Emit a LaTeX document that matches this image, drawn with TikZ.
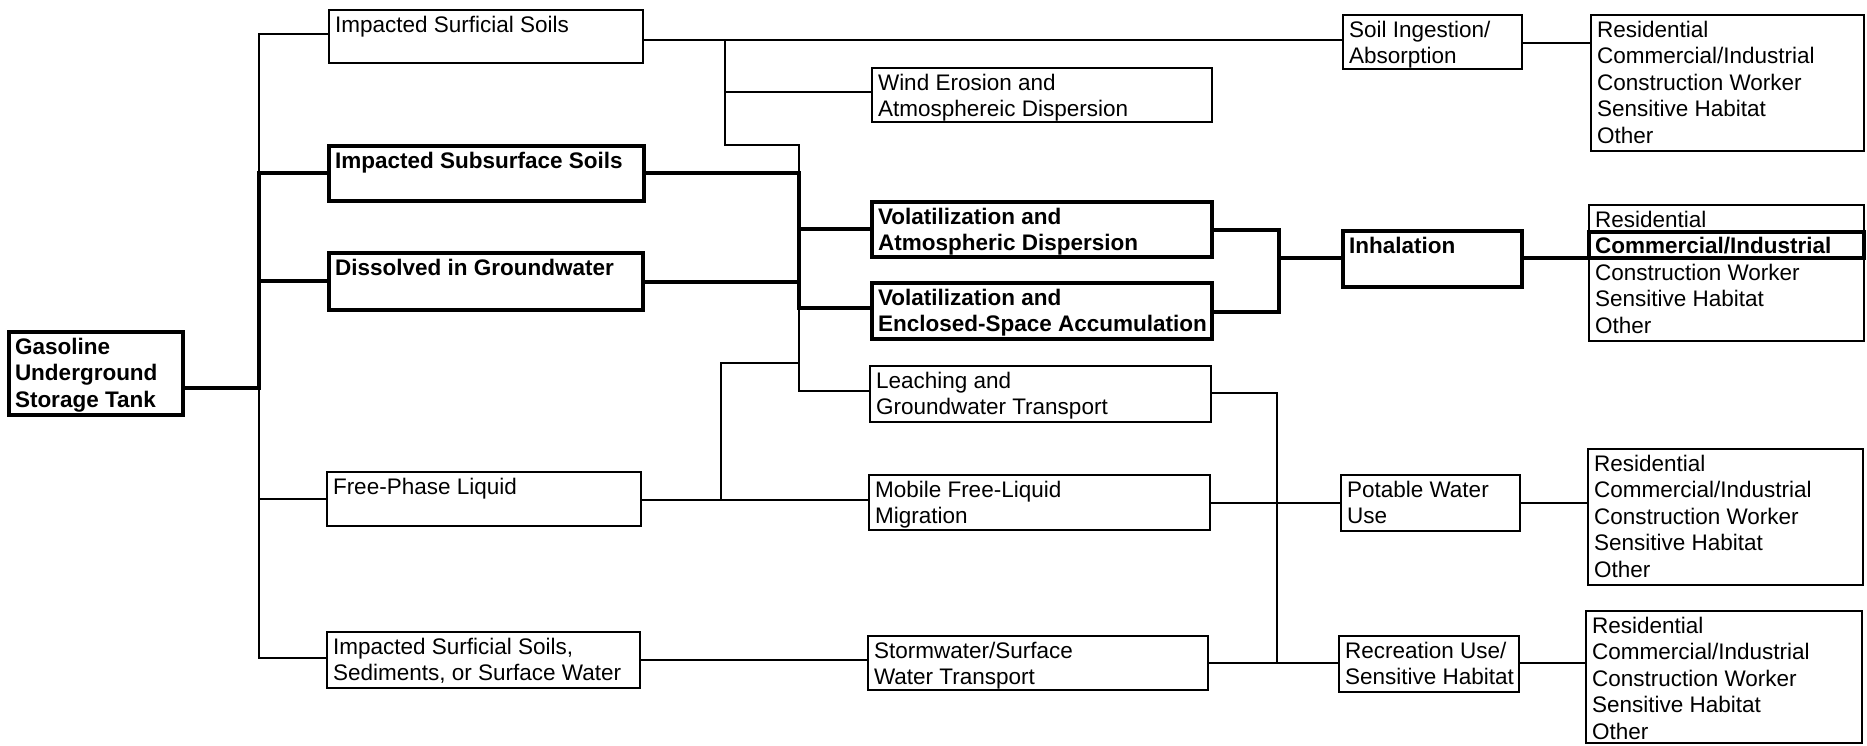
\documentclass[tikz,border=0pt]{standalone}
\usepackage{fontspec}
\setmainfont{Liberation Sans}
\tikzset{
  thinln/.style={line width=2pt, line cap=rect},
  boldln/.style={line width=4pt, line cap=rect},
  boxthin/.style={draw, line width=2pt, font=\fontsize{22.5}{26.6}\selectfont},
  boxbold/.style={draw, line width=4pt, font=\bfseries\fontsize{22.5}{26.6}\selectfont},
}
\newcommand\myboxnode[7]{%
  \pgfmathsetmacro\bw{#5-#3}%
  \pgfmathsetmacro\bh{#6-#4}%
  \node[#2, anchor=north west, inner sep=0pt, outer sep=0pt] (#1) at (#3,#4)
   {\parbox[c][\bh pt][t]{\bw pt}{\raggedright\leftskip=6pt\relax\rule{0pt}{22pt}#7}};%
}
\begin{document}
\begin{tikzpicture}[x=1pt, y=-1pt]
\useasboundingbox (0,0) rectangle (1867,745);

% column 1
\myboxnode{tank}{boxbold}{9}{332}{183}{415}{Gasoline\\Underground\\Storage Tank}
% column 2
\myboxnode{surf}{boxthin}{329}{10}{643}{63}{Impacted Surficial Soils}
\myboxnode{subs}{boxbold}{329}{146}{644}{201}{Impacted Subsurface Soils}
\myboxnode{diss}{boxbold}{329}{253}{643}{310}{Dissolved in Groundwater}
\myboxnode{free}{boxthin}{327}{472}{641}{526}{Free-Phase Liquid}
\myboxnode{sedi}{boxthin}{327}{632}{640}{688}{Impacted Surficial Soils,\\Sediments, or Surface Water}
% column 3
\myboxnode{wind}{boxthin}{872}{68}{1212}{122}{Wind Erosion and\\Atmosphereic Dispersion}
\myboxnode{vatm}{boxbold}{872}{202}{1212}{257}{Volatilization and\\Atmospheric Dispersion}
\myboxnode{venc}{boxbold}{872}{283}{1212}{339}{Volatilization and\\Enclosed-Space Accumulation}
\myboxnode{leach}{boxthin}{870}{366}{1211}{422}{Leaching and\\Groundwater Transport}
\myboxnode{mobile}{boxthin}{869}{475}{1210}{530}{Mobile Free-Liquid\\Migration}
\myboxnode{storm}{boxthin}{868}{636}{1208}{690}{Stormwater/Surface\\Water Transport}
% column 4
\myboxnode{soil}{boxthin}{1343}{15}{1522}{69}{Soil Ingestion/\\Absorption}
\myboxnode{inhal}{boxbold}{1343}{231}{1522}{287}{Inhalation}
\myboxnode{potable}{boxthin}{1341}{475}{1520}{531}{Potable Water\\Use}
\myboxnode{recre}{boxthin}{1339}{636}{1519}{692}{Recreation Use/\\Sensitive Habitat}
% column 5
\myboxnode{rec1}{boxthin}{1591}{15}{1864}{151}{Residential\\Commercial/Industrial\\Construction Worker\\Sensitive Habitat\\Other}
\myboxnode{rec2}{boxthin}{1589}{205}{1864}{341}{Residential\\\textbf{Commercial/Industrial}\\Construction Worker\\Sensitive Habitat\\Other}
\node[draw, line width=4pt, anchor=north west, inner sep=0pt, outer sep=0pt,
      minimum width=275pt, minimum height=26pt] (rec2row) at (1589,232) {};
\myboxnode{rec3}{boxthin}{1588}{449}{1863}{585}{Residential\\Commercial/Industrial\\Construction Worker\\Sensitive Habitat\\Other}
\myboxnode{rec4}{boxthin}{1586}{611}{1862}{743}{Residential\\Commercial/Industrial\\Construction Worker\\Sensitive Habitat\\Other}

% trunk
\coordinate (ta) at (259,34);
\coordinate (tb) at (259,173);
\coordinate (tc) at (259,281);
\coordinate (tt) at (259,388);
\coordinate (td) at (259,499);
\coordinate (te) at (259,658);
\draw[boldln] (tank.east |- tt) -- (tt);
\draw[thinln] (ta) -- (tb);
\draw[boldln] (tb) -- (tt);
\draw[thinln] (tt) -- (te);
\draw[thinln] (ta) -- (surf.west |- ta);
\draw[boldln] (tb) -- (subs.west |- tb);
\draw[boldln] (tc) -- (diss.west |- tc);
\draw[thinln] (td) -- (free.west |- td);
\draw[thinln] (te) -- (sedi.west |- te);

% middle
\coordinate (ja) at (725,40);
\coordinate (jb) at (725,92);
\coordinate (jc) at (725,145);
\coordinate (jd) at (799,145);
\coordinate (je) at (799,173);
\coordinate (jf) at (799,282);
\coordinate (jg) at (799,229);
\coordinate (jh) at (799,308);
\coordinate (ji) at (799,363);
\coordinate (jj) at (799,391);
\coordinate (jk) at (721,363);
\coordinate (jl) at (721,500);
\coordinate (jn) at (750,660);
\draw[thinln] (surf.east |- ja) -- (soil.west |- ja);
\draw[thinln] (ja) -- (jc) -- (jd) -- (je);
\draw[thinln] (jb) -- (wind.west |- jb);
\draw[boldln] (subs.east |- je) -- (je) -- (jh);
\draw[boldln] (diss.east |- jf) -- (jf);
\draw[boldln] (jg) -- (vatm.west |- jg);
\draw[boldln] (jh) -- (venc.west |- jh);
\draw[thinln] (jh) -- (jj) -- (leach.west |- jj);
\draw[thinln] (free.east |- jl) -- (mobile.west |- jl);
\draw[thinln] (jl) -- (jk) -- (ji);
\draw[thinln] (sedi.east |- jn) -- (storm.west |- jn);

% right
\coordinate (ka) at (1279,230);
\coordinate (kb) at (1279,312);
\coordinate (kc) at (1279,258);
\coordinate (kd) at (1277,393);
\coordinate (ke) at (1277,663);
\coordinate (kf) at (1277,503);
\coordinate (kg) at (1560,43);
\draw[boldln] (vatm.east |- ka) -- (ka) -- (kb) -- (venc.east |- kb);
\draw[boldln] (kc) -- (inhal.west |- kc);
\draw[boldln] (inhal.east |- kc) -- (rec2.west |- kc);
\draw[thinln] (leach.east |- kd) -- (kd) -- (ke);
\draw[thinln] (mobile.east |- kf) -- (potable.west |- kf);
\draw[thinln] (storm.east |- ke) -- (recre.west |- ke);
\draw[thinln] (soil.east |- kg) -- (rec1.west |- kg);
\draw[thinln] (potable.east |- kf) -- (rec3.west |- kf);
\draw[thinln] (recre.east |- ke) -- (rec4.west |- ke);
\end{tikzpicture}
\end{document}
